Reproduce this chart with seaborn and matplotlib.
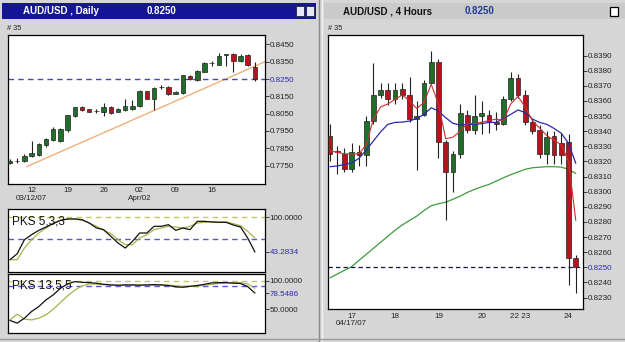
import numpy as np
import pandas as pd
import seaborn as sns
import matplotlib.pyplot as plt
from matplotlib.patches import Rectangle
from matplotlib.lines import Line2D

# ---- daily AUD/USD, 35 bars (07 Mar - 24 Apr 2007)
d_open = [0.7765, 0.7778, 0.7779, 0.7803, 0.7812, 0.7868, 0.7898, 0.7895, 0.7956, 0.8038,
          0.8090, 0.8075, 0.8066, 0.8058, 0.8090, 0.8060, 0.8072, 0.8079, 0.8094, 0.8179,
          0.8135, 0.8201, 0.8205, 0.8166, 0.8167, 0.8269, 0.8245, 0.8292, 0.8341, 0.8331,
          0.8386, 0.8392, 0.8354, 0.8388, 0.8321]
d_close = [0.7775, 0.7777, 0.7805, 0.7822, 0.7875, 0.7904, 0.7962, 0.7962, 0.8042, 0.8086,
           0.8071, 0.8062, 0.8064, 0.8090, 0.8056, 0.8077, 0.8094, 0.8094, 0.8183, 0.8137,
           0.8200, 0.8203, 0.8163, 0.8175, 0.8273, 0.8250, 0.8298, 0.8340, 0.8340, 0.8383,
           0.8392, 0.8356, 0.8385, 0.8331, 0.8250]
d_high = [0.7790, 0.7792, 0.7817, 0.7892, 0.7880, 0.7910, 0.7975, 0.7970, 0.8045, 0.8090,
          0.8097, 0.8078, 0.8075, 0.8113, 0.8093, 0.8082, 0.8133, 0.8131, 0.8187, 0.8183,
          0.8206, 0.8215, 0.8207, 0.8182, 0.8275, 0.8272, 0.8302, 0.8350, 0.8355, 0.8398,
          0.8396, 0.8398, 0.8392, 0.8392, 0.8346]
d_low = [0.7760, 0.7764, 0.7773, 0.7800, 0.7805, 0.7860, 0.7890, 0.7885, 0.7942, 0.8030,
         0.8065, 0.8058, 0.8055, 0.8037, 0.8050, 0.8058, 0.8068, 0.8072, 0.8090, 0.8135,
         0.8071, 0.8190, 0.8160, 0.8163, 0.8165, 0.8243, 0.8236, 0.8288, 0.8323, 0.8328,
         0.8325, 0.8292, 0.8348, 0.8325, 0.8240]
trend_x = [2.3, 35.4]
trend_y = [0.7744, 0.8350]
d_ticks = [3, 8, 13, 18, 23, 28]
d_ticklabels = ['12\n03/12/07', '19', '26', '02\nApr/02', '09', '16']
d_yticks = [0.8450, 0.8350, 0.8250, 0.8150, 0.8050, 0.7950, 0.7850, 0.7750]

# PKS 5,3,3 and PKS 13,5,5
pks5_k = [30.8, 40.5, 63.2, 71.4, 78.4, 83.8, 89.2, 94.6, 96.8, 96.8, 95.7, 90.3, 82.2, 79.5,
          68.6, 57.8, 49.7, 60.5, 74.1, 74.1, 84.9, 84.9, 87.6, 78.4, 82.2, 79.5, 93.0, 93.0,
          91.9, 91.4, 91.4, 87.0, 83.8, 65.9, 43.3]
pks5_d = [30.8, 30.8, 49.7, 63.2, 74.1, 82.2, 90.3, 94.6, 96.8, 96.8, 94.6, 90.3, 84.9, 78.4,
          73.0, 63.2, 55.1, 55.1, 65.9, 71.4, 79.5, 82.2, 84.9, 83.8, 82.2, 84.9, 90.3, 91.4,
          92.4, 91.9, 91.9, 89.2, 85.9, 76.8, 65.9]
pks13_k = [30.0, 25.3, 34.0, 46.0, 54.7, 66.5, 75.3, 87.0, 94.7, 98.8, 97.6, 97.0, 95.9, 94.0,
           93.0, 92.5, 93.0, 93.0, 92.5, 93.0, 93.5, 93.0, 92.0, 89.5, 88.8, 90.5, 92.0, 94.0,
           96.5, 97.0, 97.0, 96.0, 95.5, 90.0, 78.5]
pks13_d = [31.2, 41.2, 32.4, 31.0, 34.0, 40.0, 50.0, 61.8, 73.5, 84.0, 91.0, 94.7, 94.5, 93.5,
           92.5, 92.0, 92.0, 92.5, 92.5, 92.5, 92.5, 92.5, 92.5, 91.5, 90.5, 90.5, 91.0, 92.5,
           94.0, 95.5, 96.5, 97.0, 97.0, 94.7, 87.0]

# ---- 4 hour AUD/USD, 35 bars (16 Apr - 24 Apr 2007)
h_open = [0.8337, 0.8327, 0.8325, 0.8315, 0.8326, 0.8324, 0.8347, 0.8364, 0.8367, 0.8361,
          0.8368, 0.8364, 0.8348, 0.8351, 0.8372, 0.8386, 0.8333, 0.8313, 0.8325, 0.8351,
          0.8341, 0.8350, 0.8351, 0.8346, 0.8345, 0.8361, 0.8375, 0.8364, 0.8346, 0.8341,
          0.8325, 0.8337, 0.8332, 0.8333, 0.8256]
h_close = [0.8325, 0.8326, 0.8315, 0.8326, 0.8324, 0.8347, 0.8364, 0.8367, 0.8361, 0.8367,
           0.8364, 0.8348, 0.8350, 0.8372, 0.8386, 0.8333, 0.8313, 0.8325, 0.8352, 0.8341,
           0.8350, 0.8352, 0.8346, 0.8345, 0.8361, 0.8375, 0.8364, 0.8346, 0.8340, 0.8325,
           0.8336, 0.8324, 0.8324, 0.8256, 0.8250]
h_high = [0.8345, 0.8330, 0.8329, 0.8332, 0.8331, 0.8350, 0.8385, 0.8372, 0.8372, 0.8372,
          0.8372, 0.8376, 0.8360, 0.8374, 0.8393, 0.8388, 0.8334, 0.8327, 0.8358, 0.8354,
          0.8364, 0.8360, 0.8354, 0.8353, 0.8363, 0.8379, 0.8378, 0.8367, 0.8348, 0.8344,
          0.8340, 0.8340, 0.8339, 0.8338, 0.8258]
h_low = [0.8320, 0.8312, 0.8313, 0.8313, 0.8317, 0.8317, 0.8345, 0.8362, 0.8357, 0.8358,
         0.8361, 0.8346, 0.8314, 0.8350, 0.8371, 0.8322, 0.8281, 0.8300, 0.8322, 0.8339,
         0.8338, 0.8338, 0.8339, 0.8341, 0.8344, 0.8360, 0.8362, 0.8344, 0.8338, 0.8322,
         0.8318, 0.8318, 0.8318, 0.8238, 0.8233]
ma_fast = [0.8327, 0.8326, 0.8325, 0.8325, 0.8325, 0.8331, 0.8348, 0.8356, 0.8358, 0.8361,
           0.8364, 0.8360, 0.8355, 0.8359, 0.8371, 0.8358, 0.8335, 0.8336, 0.8340, 0.8345,
           0.8345, 0.8346, 0.8347, 0.8348, 0.8347, 0.8358, 0.8363, 0.8356, 0.8347, 0.8342,
           0.8337, 0.8334, 0.8331, 0.8320, 0.8281]
ma_mid = [0.83165, 0.8317, 0.8318, 0.8319, 0.8322, 0.83275, 0.83335, 0.83396, 0.83445, 0.83458,
          0.8346, 0.83467, 0.83485, 0.83511, 0.83555, 0.83533, 0.83489, 0.83452, 0.8344, 0.83445,
          0.83445, 0.8345, 0.83458, 0.83458, 0.83485, 0.83511, 0.8354, 0.83524, 0.8348, 0.83458,
          0.83445, 0.83418, 0.83386, 0.8332, 0.83187]
ma_slow = [0.82430, 0.82455, 0.82480, 0.82504, 0.82545, 0.82585, 0.82625, 0.82665, 0.82705, 0.82745,
           0.82780, 0.82810, 0.82838, 0.82875, 0.82907, 0.82920, 0.82930, 0.82950, 0.82970, 0.82995,
           0.83015, 0.83033, 0.83048, 0.83070, 0.83092, 0.83112, 0.83130, 0.83148, 0.83158, 0.83162,
           0.83165, 0.83165, 0.83162, 0.83148, 0.83120]
h_ticks = [3, 9, 15, 21, 26.3, 33]
h_ticklabels = ['17\n04/17/07', '18', '19', '20', '22 23', '24']
h_yticks = [round(0.8390 - 0.001 * k, 4) for k in range(17)]

last_price = 0.8250

sns.set_style('white')
plt.rcParams['font.family'] = ['Liberation Sans', 'DejaVu Sans']

W, H = 625, 342
fig = plt.figure(figsize=(W / 100, H / 100), dpi=100)
fig.patch.set_facecolor('#d6d6d6')


def box(x0, y0, x1, y1):
    return fig.add_axes([x0 / W, 1 - y1 / H, (x1 - x0) / W, (y1 - y0) / H])


def frame(ax):
    for s in ax.spines.values():
        s.set_color('black')
        s.set_linewidth(0.9)
    ax.set_facecolor('white')


def right_ticks(ax, ticks, labels, blue):
    ax.yaxis.tick_right()
    ax.set_yticks(ticks)
    ax.set_yticklabels(labels)
    ax.tick_params(axis='y', length=3, width=0.6, pad=0.5, labelsize=5.8, colors='#222222')
    for t in ax.get_yticklabels():
        if t.get_text() in blue:
            t.set_color('#2a2aa8')


def candles(ax, o, h, l, c, w):
    o, h, l, c = map(np.asarray, (o, h, l, c))
    x = np.arange(len(o))
    ax.vlines(x, l, h, color='#222222', lw=0.8, zorder=2)
    ax.bar(x, np.abs(c - o), bottom=np.minimum(o, c), width=w,
           color=np.where(c >= o, '#1f6f2a', '#b8121c'),
           edgecolor='#222222', linewidth=0.5, zorder=3)


# ---- window chrome
fig.add_artist(Rectangle((2 / W, 1 - 19 / H), 314 / W, 16 / H, transform=fig.transFigure,
                         facecolor='#15159a', edgecolor='none'))
fig.add_artist(Rectangle((324 / W, 1 - 19 / H), 301 / W, 16 / H, transform=fig.transFigure,
                         facecolor='#cacaca', edgecolor='none'))
for xs in ([296, 304], [306, 314]):
    fig.add_artist(Rectangle((xs[0] / W, 1 - 16 / H), 8 / W, 10 / H, transform=fig.transFigure,
                             facecolor='#e8e8f4', edgecolor='#202060', lw=0.6))
fig.add_artist(Rectangle((610 / W, 1 - 16 / H), 8 / W, 9 / H, transform=fig.transFigure,
                         facecolor='white', edgecolor='black', lw=0.9))
fig.add_artist(Line2D([319 / W, 319 / W], [0, 1], transform=fig.transFigure, color='#8a8a8a', lw=1))
fig.add_artist(Line2D([322 / W, 322 / W], [0, 1], transform=fig.transFigure, color='#f4f4f4', lw=1))
fig.add_artist(Line2D([0, 1], [3 / H, 3 / H], transform=fig.transFigure, color='#9a9a9a', lw=1))

fig.text(23 / W, 1 - 11 / H, 'AUD/USD , Daily', color='white', weight='bold', size=7, va='center')
fig.text(147 / W, 1 - 11 / H, '0.8250', color='white', weight='bold', size=7, va='center')
fig.text(343 / W, 1 - 11 / H, 'AUD/USD , 4 Hours', color='#111111', weight='bold', size=7, va='center')
fig.text(465 / W, 1 - 11 / H, '0.8250', color='#1f3c9c', weight='bold', size=7, va='center')
fig.text(7 / W, 1 - 29 / H, '# 35', size=5.3, va='center', color='#222222')
fig.text(328 / W, 1 - 29 / H, '# 35', size=5.3, va='center', color='#222222')

# ---- daily chart
ax_d = box(8, 35, 265, 184)
frame(ax_d)
candles(ax_d, d_open, d_high, d_low, d_close, 0.62)
sns.lineplot(x=trend_x, y=trend_y, ax=ax_d, color='#f0b07a', lw=1.0, zorder=1)
ax_d.axhline(last_price, color='#4848b4', lw=1.0, dashes=(4, 3), zorder=1)
ax_d.set_xlim(-0.28, 35.4)
ax_d.set_ylim(0.7644, 0.8504)
right_ticks(ax_d, d_yticks, ['%.4f' % v for v in d_yticks], ['0.8250'])
ax_d.set_xticks(d_ticks)
ax_d.set_xticklabels(d_ticklabels, linespacing=1.05)
ax_d.tick_params(axis='x', length=0, pad=2.5, labelsize=5.8, colors='#222222')
ax_d.set_xlabel('')
ax_d.set_ylabel('')

# ---- PKS panels
idx = np.arange(len(pks5_k))
panels = [
    ((8, 209, 265, 272), pks5_k, pks5_d, (10.8, 113), 65, 'PKS 5,3,3',
     [100, 43.2834], ['100.0000', '43.2834'], ['43.2834']),
    ((8, 274, 265, 333), pks13_k, pks13_d, (7.8, 112.3), 91, 'PKS 13,5,5',
     [100, 78.5486, 50], ['100.0000', '78.5486', '50.0000'], ['78.5486']),
]
for rect, k, d, ylim, blue_lvl, name, ticks, labels, blue in panels:
    ax = box(*rect)
    frame(ax)
    ax.axhline(100, color='#c9c95a', lw=1.0, dashes=(4, 3), zorder=1)
    ax.axhline(blue_lvl, color='#5a5ac8', lw=1.0, dashes=(4, 3), zorder=1)
    sns.lineplot(x=idx, y=d, ax=ax, color='#a9b24a', lw=0.9, zorder=2)
    sns.lineplot(x=idx, y=k, ax=ax, color='#111111', lw=0.9, zorder=3)
    ax.text(0.015, 0.8, name, transform=ax.transAxes, size=8.5, va='center', color='#111111')
    ax.set_xlim(-0.28, 35.4)
    ax.set_ylim(*ylim)
    ax.set_xticks([])
    right_ticks(ax, ticks, labels, blue)
    ax.set_xlabel('')
    ax.set_ylabel('')

# ---- 4 hour chart
ax_h = box(328, 35, 583, 309)
frame(ax_h)
h_df = pd.DataFrame({'i': np.arange(len(h_open)), 'fast': ma_fast, 'mid': ma_mid, 'slow': ma_slow})
sns.lineplot(data=h_df, x='i', y='slow', ax=ax_h, color='#3f9a3f', lw=0.9, zorder=1)
candles(ax_h, h_open, h_high, h_low, h_close, 0.66)
sns.lineplot(data=h_df, x='i', y='mid', ax=ax_h, color='#2a2aa8', lw=0.9, zorder=4)
sns.lineplot(data=h_df, x='i', y='fast', ax=ax_h, color='#cc3030', lw=0.8, zorder=5)
ax_h.axhline(last_price, color='#10104a', lw=0.9, dashes=(3.5, 2.5), zorder=1)
ax_h.set_xlim(-0.28, 35.0)
ax_h.set_ylim(0.82224, 0.84036)
right_ticks(ax_h, h_yticks, ['%.4f' % v for v in h_yticks], ['0.8250'])
ax_h.set_xticks(h_ticks)
ax_h.set_xticklabels(h_ticklabels, linespacing=1.05)
ax_h.tick_params(axis='x', length=0, pad=3, labelsize=5.8, colors='#222222')
ax_h.set_xlabel('')
ax_h.set_ylabel('')

fig.savefig('out.png', dpi=100, facecolor=fig.get_facecolor())
